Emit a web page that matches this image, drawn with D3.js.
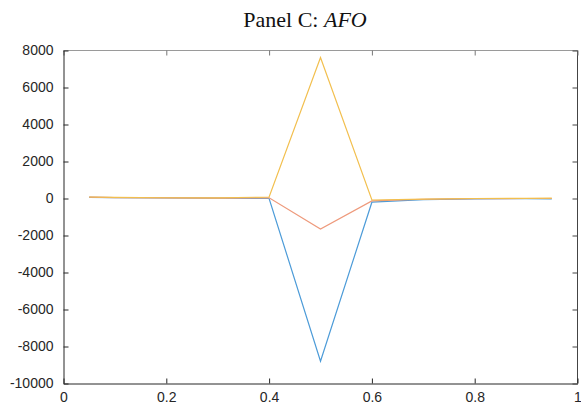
<!DOCTYPE html>
<html><head><meta charset="utf-8">
<script src="https://cdn.jsdelivr.net/npm/d3@7"></script>
<style>body{margin:0;background:#fff;} svg{display:block;}</style>
</head><body>
<svg id="chart" width="581" height="406"></svg>
<script>
const xVals = [0.05, 0.1, 0.2, 0.3, 0.4, 0.5, 0.6, 0.7, 0.8, 0.9, 0.95];
const seriesBlue   = [60, 50, 30, 20, 0, -8800, -200, -60, -20, -10, -20];
const seriesOrange = [70, 50, 30, 20, 40, -1650, -130, -40, -10, 0, 0];
const seriesYellow = [80, 60, 40, 30, 80, 7620, -80, -30, 0, 10, 20];
const xTicks = [0, 0.2, 0.4, 0.6, 0.8, 1];
const yTicks = [-10000, -8000, -6000, -4000, -2000, 0, 2000, 4000, 6000, 8000];

const svg = d3.select("#chart");
const L = 63.5, R = 577.5, T = 50.5, B = 383.5;
const x = d3.scaleLinear().domain([0, 1]).range([L, R]);
const y = d3.scaleLinear().domain([-10000, 8000]).range([B, T]);

// title
const title = svg.append("text").attr("x", 305).attr("y", 27)
  .attr("text-anchor", "middle").attr("font-family", "'Liberation Serif', 'Times New Roman', serif")
  .attr("font-size", 22).attr("fill", "#111");
title.append("tspan").text("Panel C: ");
title.append("tspan").attr("font-style", "italic").text("AFO");

const axisColor = "#262626";
const fontFam = "'Liberation Sans', Arial, sans-serif";
const fmt = d => String(d);

// box top and right
svg.append("line").attr("x1", L).attr("x2", R).attr("y1", T).attr("y2", T).attr("stroke", "#9a9a9a").attr("stroke-width", 1);
svg.append("line").attr("x1", R).attr("x2", R).attr("y1", T).attr("y2", B).attr("stroke", "#444").attr("stroke-width", 1);

// bottom axis
const xAxis = d3.axisBottom(x).tickValues(xTicks).tickFormat(fmt).tickSizeInner(-5).tickSizeOuter(0).tickPadding(9);
const gx = svg.append("g").attr("transform", `translate(0,${B})`).call(xAxis);
gx.select(".domain").attr("stroke", axisColor);
gx.selectAll(".tick line").attr("stroke", axisColor);
gx.selectAll("text").attr("font-family", fontFam).attr("font-size", 14).attr("fill", axisColor);

// top ticks
const xAxisTop = d3.axisTop(x).tickValues(xTicks).tickFormat("").tickSizeInner(-5).tickSizeOuter(0);
const gxt = svg.append("g").attr("transform", `translate(0,${T})`).call(xAxisTop);
gxt.select(".domain").remove();
gxt.selectAll(".tick line").attr("stroke", "#777");

// left axis
const yAxis = d3.axisLeft(y).tickValues(yTicks).tickFormat(fmt).tickSizeInner(-5).tickSizeOuter(0).tickPadding(10);
const gy = svg.append("g").attr("transform", `translate(${L},0)`).call(yAxis);
gy.select(".domain").attr("stroke", axisColor);
gy.selectAll(".tick line").attr("stroke", axisColor);
gy.selectAll("text").attr("font-family", fontFam).attr("font-size", 14).attr("fill", axisColor);

// right ticks
const yAxisR = d3.axisRight(y).tickValues(yTicks).tickFormat("").tickSizeInner(-5).tickSizeOuter(0);
const gyr = svg.append("g").attr("transform", `translate(${R},0)`).call(yAxisR);
gyr.select(".domain").remove();
gyr.selectAll(".tick line").attr("stroke", "#444");

const line = d3.line().x((d, i) => x(xVals[i])).y(d => y(d));
const series = [
  {vals: seriesBlue, color: "#4c9bd8"},
  {vals: seriesOrange, color: "#ee9a7c"},
  {vals: seriesYellow, color: "#f2bf4e"}
];
series.forEach(s => {
  svg.append("path").datum(s.vals).attr("d", line)
    .attr("fill", "none").attr("stroke", s.color).attr("stroke-width", 1.2);
});
</script>
</body></html>
